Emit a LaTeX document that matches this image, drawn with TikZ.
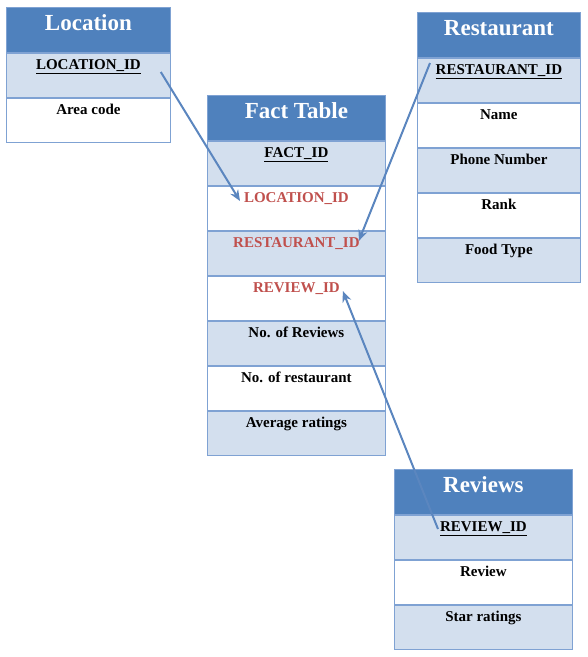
\documentclass[tikz,border=0pt]{standalone}
\usepackage{fontspec}
\setmainfont{Liberation Serif}
\usepackage{xcolor}
\usetikzlibrary{arrows.meta,positioning,shapes}

\definecolor{headblue}{HTML}{4F81BD}
\definecolor{rowblue}{HTML}{D3DFEE}
\definecolor{edgeblue}{HTML}{7FA2D3}
\definecolor{keyred}{HTML}{C0504D}
\definecolor{linkblue}{HTML}{5B86BF}

\tikzset{
  tblhead/.style={rectangle,draw=edgeblue,line width=0.8pt,fill=headblue,text=white,
    font=\fontsize{23}{23}\selectfont\bfseries,inner ysep=3pt,
    text height=20pt,text depth=19.2pt},
  tblrow/.style={rectangle,draw=edgeblue,line width=0.8pt,fill=white,
    font=\fontsize{15}{15}\selectfont\bfseries,inner ysep=3pt,
    text height=13pt,text depth=25.2pt},
  litrow/.style={tblrow,fill=rowblue},
  fkey/.style={text=keyred},
  link/.style={draw=linkblue,line width=2pt,-{Stealth[length=11pt,width=9pt]}}
}

\begin{document}
\begin{tikzpicture}[x=1pt,y=-1pt,node distance=0pt]
  \useasboundingbox (0,0) rectangle (588,657);

  % Location table
  \node[tblhead,minimum width=164pt,anchor=north west] (loc) at (6,7) {Location};
  \node[litrow,minimum width=164pt] (locid) [below=of loc] {\underline{LOCATION\_ID}};
  \node[tblrow,minimum width=164pt] (locarea) [below=of locid] {Area code};

  % Fact table
  \node[tblhead,minimum width=178pt,anchor=north west] (fact) at (207,95) {Fact Table};
  \node[litrow,minimum width=178pt] (factid) [below=of fact] {\underline{FACT\_ID}};
  \node[tblrow,minimum width=178pt,fkey] (factloc) [below=of factid] {LOCATION\_ID};
  \node[litrow,minimum width=178pt,fkey] (factrest) [below=of factloc] {RESTAURANT\_ID};
  \node[tblrow,minimum width=178pt,fkey] (factrev) [below=of factrest] {REVIEW\_ID};
  \node[litrow,minimum width=178pt] (factnrev) [below=of factrev] {No. of Reviews};
  \node[tblrow,minimum width=178pt] (factnrest) [below=of factnrev] {No. of restaurant};
  \node[litrow,minimum width=178pt] (factavg) [below=of factnrest] {Average ratings};

  % Restaurant table
  \node[tblhead,minimum width=163pt,anchor=north west] (rest) at (417,12) {Restaurant};
  \node[litrow,minimum width=163pt] (restid) [below=of rest] {\underline{RESTAURANT\_ID}};
  \node[tblrow,minimum width=163pt] (restname) [below=of restid] {Name};
  \node[litrow,minimum width=163pt] (restphone) [below=of restname] {Phone Number};
  \node[tblrow,minimum width=163pt] (restrank) [below=of restphone] {Rank};
  \node[litrow,minimum width=163pt] (restfood) [below=of restrank] {Food Type};

  % Reviews table
  \node[tblhead,minimum width=178pt,anchor=north west] (rev) at (394,469) {Reviews};
  \node[litrow,minimum width=178pt] (revid) [below=of rev] {\underline{REVIEW\_ID}};
  \node[tblrow,minimum width=178pt] (revtext) [below=of revid] {Review};
  \node[litrow,minimum width=178pt] (revstars) [below=of revtext] {Star ratings};

  % link end points
  \coordinate (locfrom) at ([xshift=-10pt,yshift=-19pt]locid.north east);
  \coordinate (locto) at ([xshift=33pt,yshift=-15pt]factloc.north west);
  \coordinate (restfrom) at ([xshift=13pt,yshift=-5pt]restid.north west);
  \coordinate (restto) at ([xshift=-27pt,yshift=-10pt]factrest.north east);
  \coordinate (revfrom) at ([xshift=44pt,yshift=-14pt]revid.north west);
  \coordinate (revto) at ([xshift=-43pt,yshift=-15pt]factrev.north east);

  % Keys into the fact table
  \draw[link] (locfrom) -- (locto);
  \draw[link] (restfrom) -- (restto);
  \draw[link] (revfrom) -- (revto);
\end{tikzpicture}
\end{document}
